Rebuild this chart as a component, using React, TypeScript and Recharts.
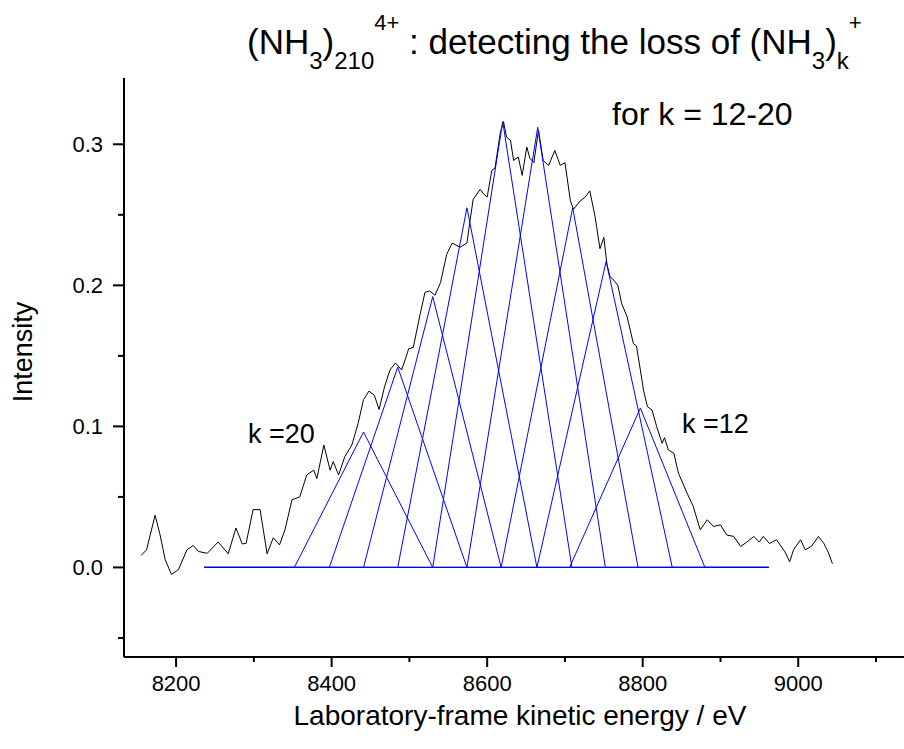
import React from 'react';
import { LineChart, Line, XAxis, YAxis } from 'recharts';

const blackX = [8155, 8162, 8173, 8179, 8186, 8194, 8203, 8214, 8222, 8229, 8240, 8254, 8267, 8277, 8285, 8290, 8299, 8308, 8317, 8325, 8333, 8340, 8349, 8359, 8368, 8377, 8381, 8390, 8398, 8402, 8409, 8417, 8426, 8434, 8441, 8448, 8455, 8461, 8468, 8475, 8482, 8490, 8495, 8499, 8505, 8514, 8520, 8526, 8533, 8540, 8548, 8555, 8565, 8574, 8578, 8582, 8591, 8595, 8600, 8606, 8610, 8617, 8621, 8625, 8630, 8634, 8640, 8645, 8651, 8655, 8660, 8666, 8672, 8679, 8687, 8694, 8700, 8707, 8711, 8720, 8726, 8732, 8739, 8745, 8750, 8754, 8758, 8763, 8768, 8773, 8780, 8788, 8792, 8797, 8801, 8806, 8812, 8818, 8825, 8828, 8833, 8840, 8846, 8857, 8865, 8874, 8883, 8891, 8900, 8908, 8917, 8926, 8934, 8943, 8950, 8955, 8963, 8972, 8983, 8989, 8994, 9003, 9009, 9017, 9026, 9033, 9039, 9044];
const blackY = [0.0085, 0.0125, 0.037, 0.024, 0.0055, -0.005, -0.0016, 0.0125, 0.0156, 0.0113, 0.01, 0.018, 0.0097, 0.028, 0.0167, 0.017, 0.041, 0.041, 0.0097, 0.021, 0.016, 0.0267, 0.048, 0.05, 0.0656, 0.069, 0.063, 0.0868, 0.069, 0.075, 0.0656, 0.0786, 0.0868, 0.102, 0.119, 0.125, 0.122, 0.112, 0.128, 0.14, 0.145, 0.14, 0.148, 0.155, 0.156, 0.18, 0.195, 0.196, 0.193, 0.202, 0.222, 0.23, 0.227, 0.23, 0.246, 0.261, 0.268, 0.265, 0.2626, 0.2815, 0.283, 0.3086, 0.316, 0.305, 0.3027, 0.2885, 0.291, 0.278, 0.298, 0.29, 0.287, 0.31, 0.2885, 0.285, 0.2956, 0.285, 0.287, 0.26, 0.254, 0.26, 0.2626, 0.267, 0.248, 0.226, 0.234, 0.215, 0.206, 0.2036, 0.2, 0.187, 0.1776, 0.1588, 0.157, 0.14, 0.1257, 0.114, 0.1116, 0.0998, 0.088, 0.092, 0.0833, 0.081, 0.0668, 0.0527, 0.0432, 0.0267, 0.0338, 0.029, 0.0302, 0.023, 0.022, 0.0149, 0.018, 0.022, 0.018, 0.022, 0.017, 0.0196, 0.011, 0.004, 0.0125, 0.0196, 0.0125, 0.015, 0.022, 0.017, 0.0102, 0.0026];

const kValues = [20, 19, 18, 17, 16, 15, 14, 13, 12];
const baselineStart = 8236;
const baselineEnd = 8962;
const triLeft = [8352, 8397, 8441, 8485, 8530, 8574, 8618, 8664, 8706];
const triApex = [8441, 8485, 8530, 8574, 8620, 8665, 8710, 8753, 8797];
const triRight = [8530, 8574, 8618, 8664, 8709, 8752, 8794, 8838, 8880];
const triHeight = [0.096, 0.142, 0.192, 0.255, 0.316, 0.312, 0.255, 0.217, 0.113];

const xTicks = [8200, 8300, 8400, 8500, 8600, 8700, 8800, 8900, 9000, 9100];
const xLabelTicks = [8200, 8400, 8600, 8800, 9000];
const yTicks = [-0.05, 0, 0.05, 0.1, 0.15, 0.2, 0.25, 0.3];
const yLabelTicks = [0, 0.1, 0.2, 0.3];

const FONT = '"Liberation Sans", Arial, Helvetica, sans-serif';

const blackData = blackX.map((x, i) => ({ x, y: blackY[i] }));
const triData = kValues.map((k, i) => [
  { x: baselineStart, y: 0 },
  { x: triLeft[i], y: 0 },
  { x: triApex[i], y: triHeight[i] },
  { x: triRight[i], y: 0 },
  { x: baselineEnd, y: 0 },
]);

const XTick = (props: any) => {
  const { x, y, payload } = props;
  const major = xLabelTicks.includes(payload.value);
  return (
    <g>
      <line x1={x} y1={y} x2={x} y2={y + (major ? 10 : 5)} stroke="#000" strokeWidth={2} />
      {major && (
        <text x={x} y={y + 34} textAnchor="middle" fontSize={22} fontFamily={FONT} fill="#000">
          {payload.value}
        </text>
      )}
    </g>
  );
};

const YTick = (props: any) => {
  const { x, y, payload } = props;
  const v = payload.value;
  const major = yLabelTicks.some((t) => Math.abs(t - v) < 1e-9);
  return (
    <g>
      <line x1={x - (major ? 11 : 6)} y1={y} x2={x} y2={y} stroke="#000" strokeWidth={2} />
      {major && (
        <text x={x - 21} y={y + 8} textAnchor="end" fontSize={22} fontFamily={FONT} fill="#000">
          {v.toFixed(1)}
        </text>
      )}
    </g>
  );
};

export default function App() {
  return (
    <div style={{ position: 'absolute', left: 0, top: 0, width: 904, height: 749, background: '#fff' }}>
      <LineChart width={904} height={749} margin={{ top: 78, right: 0, bottom: 0, left: 0 }}>
        <XAxis
          type="number"
          dataKey="x"
          domain={[8133, 9136]}
          ticks={xTicks}
          allowDataOverflow
          height={92}
          tickLine={false}
          tickSize={0}
          tickMargin={0}
          axisLine={{ stroke: '#000', strokeWidth: 2 }}
          tick={<XTick />}
          interval={0}
        />
        <YAxis
          type="number"
          dataKey="y"
          domain={[-0.0635, 0.347]}
          ticks={yTicks}
          allowDataOverflow
          width={124}
          tickLine={false}
          tickSize={0}
          tickMargin={0}
          axisLine={{ stroke: '#000', strokeWidth: 2 }}
          tick={<YTick />}
          interval={0}
        />
        <Line data={blackData} dataKey="y" type="linear" stroke="#000" strokeWidth={1} dot={false} isAnimationActive={false} />
        {triData.map((d, i) => (
          <Line key={kValues[i]} data={d} dataKey="y" type="linear" stroke="#0000ff" strokeWidth={1} dot={false} isAnimationActive={false} />
        ))}
      </LineChart>
      <svg width={904} height={749} style={{ position: 'absolute', left: 0, top: 0, pointerEvents: 'none' }}>
        <text x={247} y={54} fontSize={35} fontFamily={FONT} fill="#000">
          <tspan>(NH</tspan>
          <tspan fontSize={24} dy={15}>3</tspan>
          <tspan dy={-15}>)</tspan>
          <tspan fontSize={24} dy={15}>210</tspan>
          <tspan fontSize={22} dy={-39}>4+</tspan>
          <tspan dy={24}> : detecting the loss of (NH</tspan>
          <tspan fontSize={24} dy={15}>3</tspan>
          <tspan dy={-15}>)</tspan>
          <tspan fontSize={24} dy={15}>k</tspan>
          <tspan fontSize={22} dy={-39}>+</tspan>
        </text>
        <text x={612} y={125} fontSize={32} fontFamily={FONT} fill="#000">for k = 12-20</text>
        <text x={248} y={443} fontSize={27} fontFamily={FONT} fill="#000">k =20</text>
        <text x={682} y={433} fontSize={27} fontFamily={FONT} fill="#000">k =12</text>
        <text x={520} y={725} textAnchor="middle" fontSize={28} fontFamily={FONT} fill="#000">Laboratory-frame kinetic energy / eV</text>
        <text transform="translate(32,352) rotate(-90)" textAnchor="middle" fontSize={27} fontFamily={FONT} fill="#000">Intensity</text>
      </svg>
    </div>
  );
}
